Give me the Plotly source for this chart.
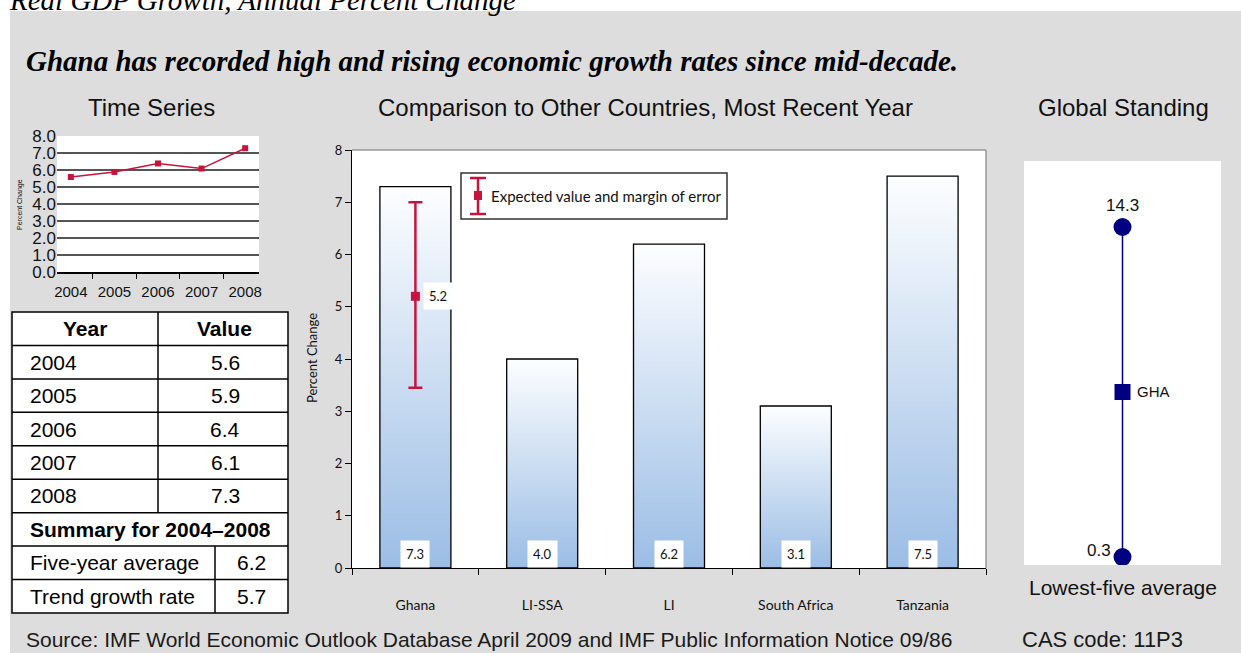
import plotly.graph_objects as go

# ---------------- data ----------------
years = ["2004", "2005", "2006", "2007", "2008"]
growth = [5.6, 5.9, 6.4, 6.1, 7.3]
five_year_average = 6.2
trend_growth_rate = 5.7

countries = ["Ghana", "LI-SSA", "LI", "South Africa", "Tanzania"]
country_growth = [7.3, 4.0, 6.2, 3.1, 7.5]

ghana_expected = 5.2
ghana_margin_high = 7.0
ghana_margin_low = 3.45

global_low = 0.3      # lowest-five average
global_high = 14.3    # highest-five average
global_ghana = 7.3
global_code = "GHA"

ts_yticks = [0, 1, 2, 3, 4, 5, 6, 7, 8]
bar_yticks = [0, 1, 2, 3, 4, 5, 6, 7, 8]

# ---------------- styling ----------------
W, H = 1241, 653
PANEL = "#DDDDDD"
CRIMSON = "#C8143C"
NAVY = "#000080"
SANS = "Arial, Liberation Sans, sans-serif"
HUMANIST = "Gill Sans MT, Gill Sans, Lato, sans-serif"
SERIF = "Times New Roman, Liberation Serif, serif"
BAR_W = 0.56


def fx(x):
    return x / W


def fy(y):
    return 1 - y / H


fig = go.Figure()

# ---- time series ----
fig.add_trace(go.Scatter(
    x=years, y=growth, mode="lines+markers",
    line=dict(color=CRIMSON, width=1.5),
    marker=dict(symbol="square", size=6, color=CRIMSON),
    xaxis="x", yaxis="y", showlegend=False, hoverinfo="x+y"))

# ---- comparison bars (gradient filled) ----
for i, v in enumerate(country_growth):
    xl, xr = i - BAR_W / 2, i + BAR_W / 2
    fig.add_trace(go.Scatter(
        x=[xl, xr, xr, xl, xl], y=[0, 0, v, v, 0],
        mode="lines", fill="toself",
        fillgradient=dict(type="vertical",
                          colorscale=[[0, "#9bbde5"], [1, "#fdfeff"]]),
        line=dict(color="black", width=1.3),
        xaxis="x2", yaxis="y2", showlegend=False,
        name=countries[i], hoverinfo="name"))

# Ghana expected value with margin of error
fig.add_trace(go.Scatter(
    x=[0], y=[ghana_expected], mode="markers",
    marker=dict(symbol="square", size=9, color=CRIMSON),
    error_y=dict(type="data", symmetric=False,
                 array=[ghana_margin_high - ghana_expected],
                 arrayminus=[ghana_expected - ghana_margin_low],
                 color=CRIMSON, thickness=2.5, width=7),
    xaxis="x2", yaxis="y2", showlegend=False))

# ---- global standing ----
fig.add_trace(go.Scatter(
    x=[0, 0], y=[global_low, global_high], mode="lines+markers",
    line=dict(color=NAVY, width=1.5),
    marker=dict(symbol="circle", size=18, color=NAVY),
    xaxis="x3", yaxis="y3", showlegend=False))
fig.add_trace(go.Scatter(
    x=[0], y=[global_ghana], mode="markers",
    marker=dict(symbol="square", size=16, color=NAVY),
    xaxis="x3", yaxis="y3", showlegend=False))

# ---------------- axes ----------------
fig.update_layout(
    xaxis=dict(domain=[fx(57), fx(259)], anchor="y", type="category",
               automargin=False,
               tickson="boundaries", ticks="outside", ticklen=5,
               tickcolor="black", showline=True, linecolor="black",
               linewidth=1.5, showgrid=False, ticklabelstandoff=5,
               tickfont=dict(family=SANS, size=15, color="#111")),
    yaxis=dict(domain=[fy(272), fy(136)], anchor="x", range=[0, 8.02],
               automargin=False,
               tickvals=ts_yticks, tickformat=".1f", showgrid=True,
               gridcolor="#555", gridwidth=1.5, zeroline=False,
               showline=False, ticks="",
               tickfont=dict(family=SANS, size=17, color="#111")),
    xaxis2=dict(domain=[fx(352), fx(986)], anchor="y2", range=[-0.5, 4.5],
                automargin=False,
                tickvals=list(range(len(countries))), ticktext=countries,
                ticks="", showline=True, linecolor="black", linewidth=1.2,
                showgrid=False, zeroline=False, ticklabelstandoff=24,
                minor=dict(tick0=0.5, dtick=1, ticks="outside", ticklen=6,
                           tickcolor="black", showgrid=False),
                tickfont=dict(family=HUMANIST, size=14, color="#111")),
    yaxis2=dict(domain=[fy(568), fy(150)], anchor="x2", range=[0, 8],
                automargin=False,
                tickvals=bar_yticks, ticks="outside", ticklen=6,
                tickcolor="black", showline=True, linecolor="black",
                linewidth=1.2, showgrid=False, zeroline=False,
                tickfont=dict(family=HUMANIST, size=13, color="#111")),
    xaxis3=dict(domain=[fx(1024), fx(1221)], anchor="y3", range=[-1, 1],
                automargin=False, visible=False),
    yaxis3=dict(domain=[fy(565), fy(161)], anchor="x3",
                automargin=False, range=[-0.04, 17.1], visible=False),
)

# ---------------- shapes ----------------
shapes = []
# white page strips around the grey panel
shapes.append(dict(type="rect", xref="paper", yref="paper", layer="below",
                   x0=0, x1=1, y0=fy(11), y1=1,
                   fillcolor="white", line=dict(width=0)))
shapes.append(dict(type="rect", xref="paper", yref="paper", layer="below",
                   x0=0, x1=fx(10), y0=0, y1=1,
                   fillcolor="white", line=dict(width=0)))
# bar chart frame (top and right)
shapes.append(dict(type="line", xref="paper", yref="paper",
                   x0=fx(352), x1=fx(986), y0=fy(150), y1=fy(150),
                   line=dict(color="#999", width=1.5)))
shapes.append(dict(type="line", xref="paper", yref="paper",
                   x0=fx(986), x1=fx(986), y0=fy(150), y1=fy(568),
                   line=dict(color="#999", width=1.5)))
# legend box
shapes.append(dict(type="rect", xref="paper", yref="paper",
                   x0=fx(461), x1=fx(727), y0=fy(219), y1=fy(173),
                   fillcolor="white", line=dict(color="#333", width=1.5)))
shapes.append(dict(type="line", xref="paper", yref="paper",
                   x0=fx(478), x1=fx(478), y0=fy(214), y1=fy(178),
                   line=dict(color=CRIMSON, width=2.5)))
for yy in (178, 214):
    shapes.append(dict(type="line", xref="paper", yref="paper",
                       x0=fx(470), x1=fx(486), y0=fy(yy), y1=fy(yy),
                       line=dict(color=CRIMSON, width=2.5)))
shapes.append(dict(type="rect", xref="paper", yref="paper",
                   x0=fx(474), x1=fx(482), y0=fy(200), y1=fy(191),
                   fillcolor=CRIMSON, line=dict(width=0)))

# data table grid
T_X0, T_X1, T_Y0, T_Y1 = 12, 288, 312, 613
ROW_H = (T_Y1 - T_Y0) / 9
COL_SPLIT, SUM_SPLIT = 158, 215
row_y = [T_Y0 + k * ROW_H for k in range(10)]
shapes.append(dict(type="rect", xref="paper", yref="paper",
                   x0=fx(T_X0), x1=fx(T_X1), y0=fy(T_Y1), y1=fy(T_Y0),
                   fillcolor="white", line=dict(color="black", width=1.5)))
for k in range(1, 9):
    shapes.append(dict(type="line", xref="paper", yref="paper",
                       x0=fx(T_X0), x1=fx(T_X1), y0=fy(row_y[k]), y1=fy(row_y[k]),
                       line=dict(color="black", width=1.5)))
shapes.append(dict(type="line", xref="paper", yref="paper",
                   x0=fx(COL_SPLIT), x1=fx(COL_SPLIT), y0=fy(row_y[0]), y1=fy(row_y[6]),
                   line=dict(color="black", width=1.5)))
shapes.append(dict(type="line", xref="paper", yref="paper",
                   x0=fx(SUM_SPLIT), x1=fx(SUM_SPLIT), y0=fy(row_y[7]), y1=fy(row_y[9]),
                   line=dict(color="black", width=1.5)))

# ---------------- text ----------------
ann = []


def text(x, y, s, size, family=SANS, xanchor="center", color="#111",
         weight="normal", style="normal", angle=0):
    ann.append(dict(x=fx(x), y=fy(y), xref="paper", yref="paper", text=s,
                    showarrow=False, xanchor=xanchor, yanchor="middle",
                    textangle=angle,
                    font=dict(family=family, size=size, color=color,
                              weight=weight, style=style)))


text(7, 0, "Real GDP Growth, Annual Percent Change", 29, SERIF,
     xanchor="left", color="black", style="italic")
text(24, 61, "Ghana has recorded high and rising economic growth rates since mid-decade.",
     29, SERIF, xanchor="left", color="black", weight="bold", style="italic")
text(151, 107, "Time Series", 24)
text(645, 107, "Comparison to Other Countries, Most Recent Year", 24)
text(1123, 107, "Global Standing", 24)
text(1123, 587, "Lowest-five average", 21)
text(20, 204, "Percent Change", 7, angle=-90)
text(312, 358, "Percent Change", 13, HUMANIST, angle=-90)
text(489, 196, "Expected value and margin of error", 15, HUMANIST,
     xanchor="left")
text(24, 639, "Source: IMF World Economic Outlook Database April 2009 and IMF Public Information Notice 09/86",
     21, color="#1a1a1a", xanchor="left")
text(1020, 639, "CAS code: 11P3", 22, color="#1a1a1a", xanchor="left")

# table text
def mid(k):
    return (row_y[k] + row_y[k + 1]) / 2


text(85, mid(0), "Year", 21, weight="bold", color="black")
text(224, mid(0), "Value", 21, weight="bold", color="black")
for k, (yr, v) in enumerate(zip(years, growth), start=1):
    text(28, mid(k), yr, 21, xanchor="left", color="black")
    text(225, mid(k), f"{v:.1f}", 21, color="black")
text(150, mid(6), f"Summary for {years[0]}\u2013{years[-1]}", 21,
     weight="bold", color="black")
text(28, mid(7), "Five-year average", 21, xanchor="left", color="black")
text(251, mid(7), f"{five_year_average:.1f}", 21, color="black")
text(28, mid(8), "Trend growth rate", 21, xanchor="left", color="black")
text(251, mid(8), f"{trend_growth_rate:.1f}", 21, color="black")

# value labels at the foot of each bar
for i, v in enumerate(country_growth):
    ann.append(dict(x=i, y=0, xref="x2", yref="y2", text=f"{v:.1f}",
                    showarrow=False, xanchor="center", yanchor="bottom",
                    bgcolor="white", borderpad=5,
                    font=dict(family=HUMANIST, size=13, color="#111")))
ann.append(dict(x=0, y=ghana_expected, xref="x2", yref="y2",
                text=f"{ghana_expected:.1f}", showarrow=False,
                xanchor="left", yanchor="middle", xshift=8,
                bgcolor="white", borderpad=5,
                font=dict(family=HUMANIST, size=13, color="#111")))

# global standing labels
ann.append(dict(x=0, y=global_high, xref="x3", yref="y3",
                text=f"{global_high:.1f}", showarrow=False,
                yanchor="bottom", yshift=10,
                font=dict(family=SANS, size=17, color="#111")))
ann.append(dict(x=0, y=global_low, xref="x3", yref="y3",
                text=f"{global_low:.1f}", showarrow=False,
                xanchor="right", yanchor="middle", xshift=-10, yshift=6,
                font=dict(family=SANS, size=17, color="#111")))
ann.append(dict(x=0, y=global_ghana, xref="x3", yref="y3",
                text=global_code, showarrow=False,
                xanchor="left", yanchor="middle", xshift=12,
                font=dict(family=SANS, size=15, color="#111")))

fig.update_layout(
    width=W, height=H, margin=dict(l=0, r=0, t=0, b=0, pad=0),
    paper_bgcolor=PANEL, plot_bgcolor="white",
    shapes=shapes, annotations=ann, showlegend=False,
    font=dict(family=SANS),
)

fig.write_html("out.html")
